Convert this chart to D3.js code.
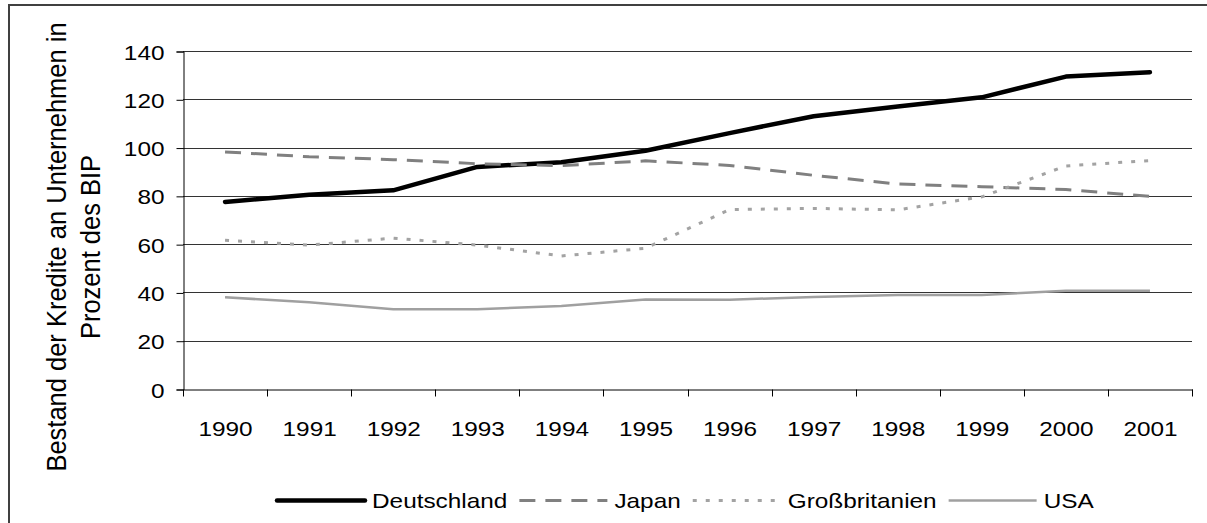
<!DOCTYPE html>
<html>
<head>
<meta charset="utf-8">
<script src="https://cdnjs.cloudflare.com/ajax/libs/d3/7.8.5/d3.min.js"></script>
<style>
  html, body { margin: 0; padding: 0; background: #fff; }
  svg { display: block; }
  text { font-family: "Liberation Sans", Arial, sans-serif; fill: #000; }
</style>
</head>
<body>
<div id="chart"></div>
<script>
let
  years = ['1990', '1991', '1992', '1993', '1994', '1995', '1996', '1997', '1998', '1999', '2000', '2001'],
  deutschland = [77.5, 80.5, 82.3, 92, 93.9, 98.7, 106, 113, 117, 120.8, 129.4, 131.2],
  japan = [98.2, 96.2, 95, 93.3, 92.5, 94.5, 92.6, 88.5, 84.9, 83.8, 82.6, 79.8],
  grossbritanien = [61.6, 59.6, 62.5, 59.6, 55.1, 58.3, 74.3, 74.8, 74.2, 79.6, 92.4, 94.6],
  usa = [38, 35.9, 33, 33, 34.4, 37.1, 37, 38.1, 38.9, 38.9, 40.7, 40.7],
  yTicks = [0, 20, 40, 60, 80, 100, 120, 140],
  yLabel = ['Bestand der Kredite an Unternehmen in', 'Prozent des BIP']
;

let
  series = [
    {name: 'Deutschland', values: deutschland, color: '#000', width: 4.5, dash: null, cap: 'round'},
    {name: 'Japan', values: japan, color: '#808080', width: 3, dash: '16,10', cap: 'butt'},
    {name: 'Großbritanien', values: grossbritanien, color: '#a3a3a3', width: 3, dash: '4,9', cap: 'butt'},
    {name: 'USA', values: usa, color: '#a0a0a0', width: 2.5, dash: null, cap: 'butt'}
  ],
  width = 1207,
  height = 523,
  plot = {left: 183, right: 1192, top: 51, bottom: 389},
  stretch = 1.16   // the original text is a bit wider than plain Arial
;

let svg = d3.select('#chart')
  .append('svg')
  .attr('width', width)
  .attr('height', height);

/*frame*/
svg.append('rect')
  .attr('x', 9)
  .attr('y', 5)
  .attr('width', width + 20)
  .attr('height', height + 20)
  .attr('fill', '#fff')
  .attr('stroke', '#404040')
  .attr('stroke-width', 2);

let x = d3.scaleBand()
  .domain(years)
  .range([plot.left, plot.right]);

let y = d3.scaleLinear()
  .domain([0, 140])
  .range([plot.bottom, plot.top]);

/*grid*/
svg.append('g')
  .selectAll('line')
  .data(yTicks.slice(1))
  .enter()
  .append('line')
  .attr('x1', plot.left)
  .attr('x2', plot.right)
  .attr('y1', d => Math.round(y(d)) + 0.5)
  .attr('y2', d => Math.round(y(d)) + 0.5)
  .attr('stroke', '#333')
  .attr('stroke-width', 1);

/*y axis*/
let yAxis = svg.append('g')
  .attr('transform', `translate(${plot.left + 0.5},0.5)`)
  .call(d3.axisLeft(y).tickValues(yTicks).tickSize(7).tickPadding(12).tickFormat(d3.format('d')));

/*x axis*/
let xAxis = svg.append('g')
  .attr('transform', `translate(0.5,${Math.round(plot.bottom) + 0.5})`)
  .call(d3.axisBottom(x).tickSize(0).tickPadding(0));

xAxis.selectAll('.tick line').remove();
xAxis.selectAll('.tick text').remove();

// tick marks sit on the band borders
xAxis.selectAll('.border')
  .data(years.concat(['end']))
  .enter()
  .append('line')
  .attr('class', 'border')
  .attr('x1', (d, i) => Math.round(plot.left + i * x.step()))
  .attr('x2', (d, i) => Math.round(plot.left + i * x.step()))
  .attr('y1', 0)
  .attr('y2', 7)
  .attr('stroke', '#000');

xAxis.selectAll('.year')
  .data(years)
  .enter()
  .append('g')
  .attr('class', 'year')
  .attr('transform', d => `translate(${x(d) + x.bandwidth() / 2},${435 - plot.bottom}) scale(${stretch},1)`)
  .append('text')
  .attr('text-anchor', 'middle')
  .style('font-size', '21px')
  .text(d => d);

[yAxis, xAxis].forEach(a => {
  a.select('.domain').attr('stroke', '#000');
  a.selectAll('.tick line').attr('stroke', '#000');
});

// y labels: keep the axis positions, stretch the text
yAxis.selectAll('.tick text')
  .each(function(d){
    d3.select(this)
      .attr('transform', `translate(-19,0) scale(${stretch},1)`)
      .attr('x', 0)
      .attr('dy', '0.36em')
      .attr('fill', '#000')
      .style('font-size', '21px')
      .style('font-family', '"Liberation Sans", Arial, sans-serif');
  });

/*axis title*/
let title = svg.append('g')
  .attr('transform', 'translate(0,247) scale(1.1,1) rotate(-90)');

title.selectAll('text')
  .data(yLabel)
  .enter()
  .append('text')
  .attr('text-anchor', 'middle')
  .attr('x', 0)
  .attr('y', (d, i) => i ? 91 : 60)
  .style('font-size', '25.5px')
  .text(d => d);

/*lines*/
let line = d3.line()
  .x((d, i) => x(years[i]) + x.bandwidth() / 2)
  .y(d => y(d));

svg.append('g')
  .selectAll('path')
  .data(series)
  .enter()
  .append('path')
  .attr('d', d => line(d.values))
  .attr('fill', 'none')
  .attr('stroke', d => d.color)
  .attr('stroke-width', d => d.width)
  .attr('stroke-dasharray', d => d.dash)
  .attr('stroke-linecap', d => d.cap)
  .attr('stroke-linejoin', 'round');

/*legend*/
let
  legend = svg.append('g').attr('transform', 'translate(0,500.5)'),
  cursor = 277
;

series.forEach(s => {
  legend.append('line')
    .attr('x1', cursor)
    .attr('x2', cursor + 88)
    .attr('y1', 0)
    .attr('y2', 0)
    .attr('stroke', s.color)
    .attr('stroke-width', s.width)
    .attr('stroke-dasharray', s.dash)
    .attr('stroke-linecap', s.cap);

  cursor += 95;

  let text = legend.append('g')
    .attr('transform', `translate(${cursor},0) scale(${stretch},1)`)
    .append('text')
    .attr('dy', '0.35em')
    .style('font-size', '21px')
    .text(s.name);

  cursor += text.node().getComputedTextLength() * stretch + 12;
});
</script>
</body>
</html>
